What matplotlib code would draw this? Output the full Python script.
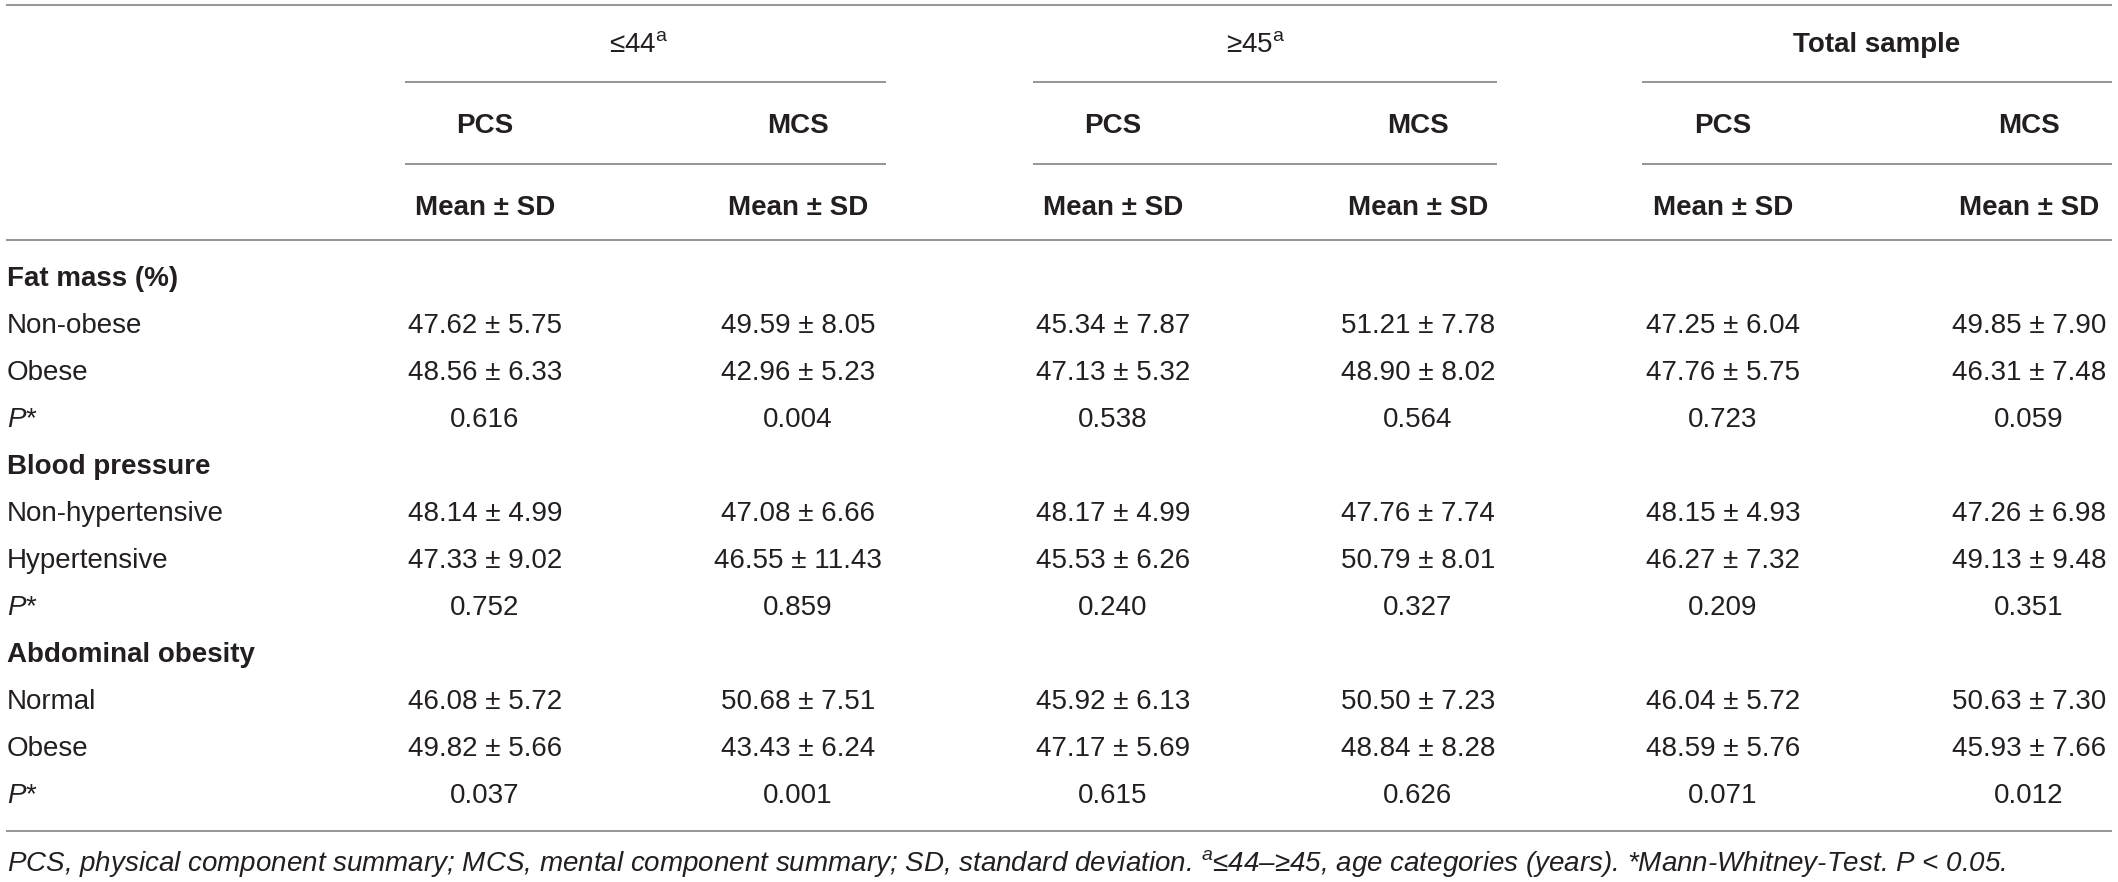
import matplotlib
matplotlib.use("Agg")
import matplotlib.pyplot as plt

plt.rcParams["font.family"] = ["Liberation Sans", "DejaVu Sans"]
plt.rcParams["mathtext.fontset"] = "custom"
plt.rcParams["mathtext.rm"] = "Liberation Sans"
plt.rcParams["mathtext.it"] = "Liberation Sans:italic"
plt.rcParams["mathtext.bf"] = "Liberation Sans:bold"

# ---------------- data ----------------
age_groups = ["≤44$^{\\mathrm{a}}$", "≥45$^{\\mathrm{a}}$", "Total sample"]
sub_cols = ["PCS", "MCS"]
stat_label = "Mean ± SD"

sections = ["Fat mass (%)", "Blood pressure", "Abdominal obesity"]
fat_labels = ["Non-obese", "Obese"]
bp_labels = ["Non-hypertensive", "Hypertensive"]
abd_labels = ["Normal", "Obese"]

# columns: <=44 PCS, <=44 MCS, >=45 PCS, >=45 MCS, Total PCS, Total MCS
fat_mean = [[47.62, 49.59, 45.34, 51.21, 47.25, 49.85],
            [48.56, 42.96, 47.13, 48.90, 47.76, 46.31]]
fat_sd = [[5.75, 8.05, 7.87, 7.78, 6.04, 7.90],
          [6.33, 5.23, 5.32, 8.02, 5.75, 7.48]]
fat_p = ["0.616", "0.004", "0.538", "0.564", "0.723", "0.059"]

bp_mean = [[48.14, 47.08, 48.17, 47.76, 48.15, 47.26],
           [47.33, 46.55, 45.53, 50.79, 46.27, 49.13]]
bp_sd = [[4.99, 6.66, 4.99, 7.74, 4.93, 6.98],
         [9.02, 11.43, 6.26, 8.01, 7.32, 9.48]]
bp_p = ["0.752", "0.859", "0.240", "0.327", "0.209", "0.351"]

abd_mean = [[46.08, 50.68, 45.92, 50.50, 46.04, 50.63],
            [49.82, 43.43, 47.17, 48.84, 48.59, 45.93]]
abd_sd = [[5.72, 7.51, 6.13, 7.23, 5.72, 7.30],
          [5.66, 6.24, 5.69, 8.28, 5.76, 7.66]]
abd_p = ["0.037", "0.001", "0.615", "0.626", "0.071", "0.012"]

footnote = ("PCS, physical component summary; MCS, mental component summary; "
            "SD, standard deviation. $^{a}$≤44–≥45, age categories (years). "
            "*Mann-Whitney-Test. P < 0.05.")

# ---------------- layout ----------------
W, H = 2118, 882
fig = plt.figure(figsize=(W / 100, H / 100), dpi=100)
ax = fig.add_axes([0, 0, 1, 1])
ax.set_xlim(0, W)
ax.set_ylim(H, 0)
ax.axis("off")

FS = 20
TXT = "#231f20"
LINE = "#8c8c8c"
LW = 1.3
BL = 10  # baseline offset from visual centre

col_x = [485, 798, 1113, 1418, 1723, 2029]
grp_x = [639, 1256, 1877]
grp_lines = [(405, 886), (1033, 1497), (1642, 2112)]
left_x = 7

def hline(y, x0=6, x1=2112):
    ax.plot([x0, x1], [y, y], color=LINE, lw=LW, solid_capstyle="butt")

def put(x, y, s, ha="center", weight="normal", style="normal", size=FS):
    ax.text(x, y + BL, s, ha=ha, va="baseline", fontsize=size,
            fontweight=weight, fontstyle=style, color=TXT)

# header
hline(5)
for i, g in enumerate(age_groups):
    put(grp_x[i], 42, g, weight="bold" if i == 2 else "normal")
    x0, x1 = grp_lines[i]
    hline(82, x0, x1)
    hline(164, x0, x1)
for j, cx in enumerate(col_x):
    put(cx, 123, sub_cols[j % 2], weight="bold")
    put(cx, 205, stat_label, weight="bold")
hline(240)

# body
blocks = [
    (sections[0], fat_labels, fat_mean, fat_sd, fat_p),
    (sections[1], bp_labels, bp_mean, bp_sd, bp_p),
    (sections[2], abd_labels, abd_mean, abd_sd, abd_p),
]
y0, dy = 276, 47.0
r = 0
for title, labels, means, sds, ps in blocks:
    put(left_x, y0 + r * dy, title, ha="left", weight="bold")
    r += 1
    for k, lab in enumerate(labels):
        y = y0 + r * dy
        put(left_x, y, lab, ha="left")
        for j, cx in enumerate(col_x):
            put(cx, y, f"{means[k][j]:.2f} ± {sds[k][j]:.2f}")
        r += 1
    y = y0 + r * dy
    put(left_x, y, "$P$*", ha="left")
    for j, cx in enumerate(col_x):
        put(cx, y, ps[j])
    r += 1

hline(831)
put(left_x, 861, footnote, ha="left", style="italic")

fig.savefig("out.png", dpi=100)
